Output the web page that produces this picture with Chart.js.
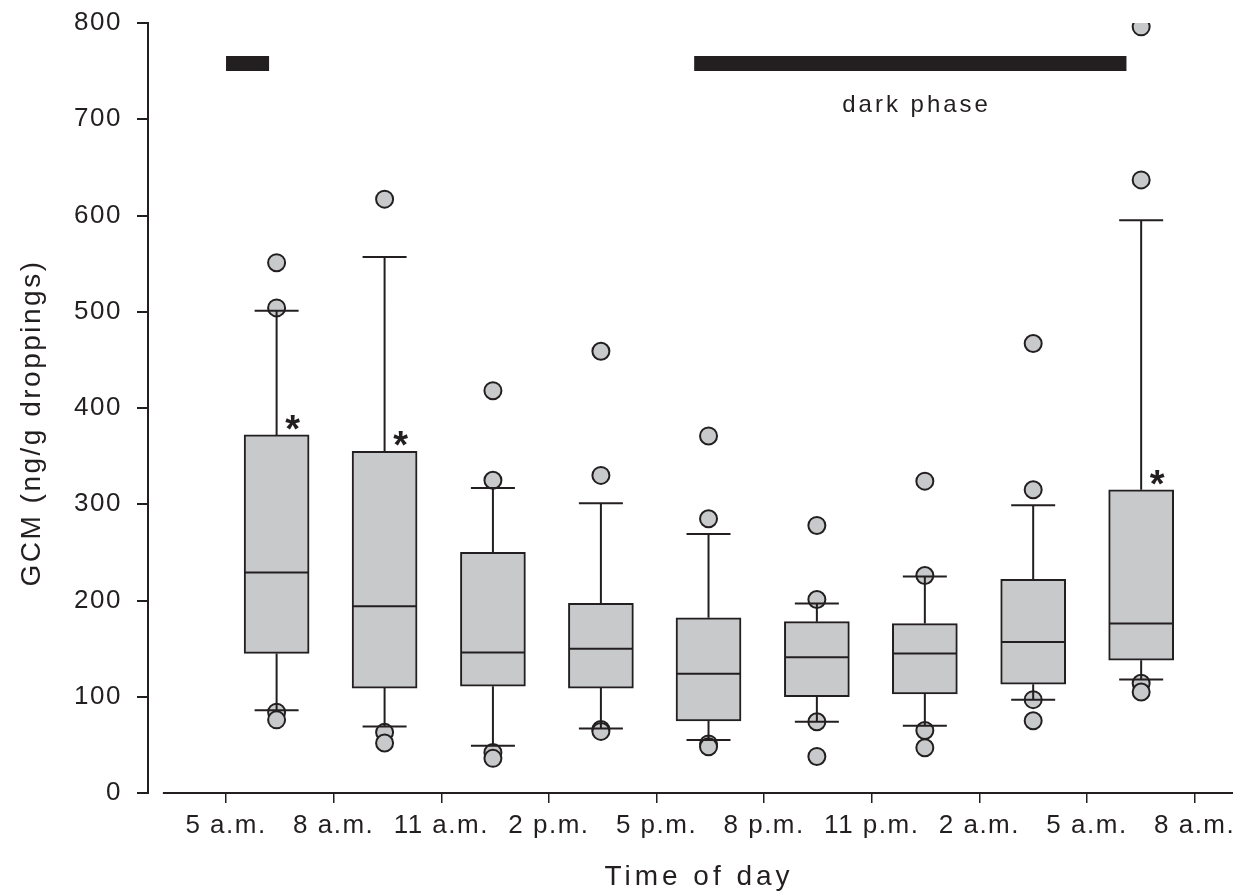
<!DOCTYPE html>
<html>
<head>
<meta charset="utf-8">
<script src="https://cdn.jsdelivr.net/npm/chart.js@4.4.0/dist/chart.umd.min.js"></script>
<style>
  html, body { margin: 0; padding: 0; background: #fff; }
</style>
</head>
<body>
<canvas id="c" width="1238" height="892"></canvas>
<script>
// ------------------------------------------------------------
//  Data (GCM per sampling time)
// ------------------------------------------------------------
const TICK_HOURS  = [5, 8, 11, 14, 17, 20, 23, 26, 29, 32];
const TICK_LABELS = ['5 a.m.', '8 a.m.', '11 a.m.', '2 p.m.', '5 p.m.', '8 p.m.', '11 p.m.', '2 a.m.', '5 a.m.', '8 a.m.'];

const BOX_HOURS  = [6.41, 9.42, 12.44, 15.45, 18.45, 21.47, 24.48, 27.5, 30.51];
const WHISKER_LO = [86, 69, 49, 67, 55, 74, 70, 97, 118];
const Q1         = [145, 109, 111, 109, 75, 100, 103, 113, 138];
const MEDIAN     = [229, 194, 146, 150, 124, 141, 145, 157, 176];
const Q3         = [372, 355, 250, 197, 182, 178, 176, 222, 315];
const WHISKER_HI = [501, 557, 317, 301, 269, 197, 225, 299, 595];
const OUTLIERS   = [
  [551, 504, 84, 76],
  [617, 63, 52],
  [418, 325, 42, 36],
  [459, 330, 66, 64],
  [371, 285, 51, 48],
  [278, 201, 74, 38],
  [324, 226, 65, 47],
  [467, 315, 97, 75],
  [796, 637, 114, 105]
];
const SIGNIFICANT = [0, 1, 8];          // boxes marked with *

const DARK_PHASES  = [[5, 6.2], [18.05, 30.1]];
const DARK_BAR_Y   = 758;
const DARK_LABEL   = 'dark phase';
const DARK_LABEL_X = 24.25;
const DARK_LABEL_Y = 714;

const X_TITLE = 'Time of day';
const Y_TITLE = 'GCM (ng/g droppings)';

// ------------------------------------------------------------
//  Styles
// ------------------------------------------------------------
const INK  = '#231f20';
const FILL = '#c8c9cb';
const FONT = '"Liberation Sans", Arial, Helvetica, sans-serif';
const X_MIN = 2.825, X_MAX = 33.07, X_LINE_START = 3.24;

// ------------------------------------------------------------
//  Build the datasets
// ------------------------------------------------------------
const boxes = BOX_HOURS.map((t, i) => ({ x: t, y: [Q1[i], Q3[i]] }));

const whiskers = [];
BOX_HOURS.forEach((t, i) => {
  whiskers.push({ x: t, y: Q3[i] }, { x: t, y: WHISKER_HI[i] }, { x: t, y: null });
  whiskers.push({ x: t, y: Q1[i] }, { x: t, y: WHISKER_LO[i] }, { x: t, y: null });
});

const caps = [];
BOX_HOURS.forEach((t, i) => {
  caps.push({ x: t, y: WHISKER_HI[i] }, { x: t, y: WHISKER_LO[i] });
});

const medians = BOX_HOURS.map((t, i) => ({ x: t, y: MEDIAN[i] }));

const outliers = [];
OUTLIERS.forEach((vals, i) => vals.forEach(v => outliers.push({ x: BOX_HOURS[i], y: v })));

const darkBar = [];
DARK_PHASES.forEach(([a, b]) => {
  darkBar.push({ x: a, y: DARK_BAR_Y }, { x: b, y: DARK_BAR_Y }, { x: b, y: null });
});

// ------------------------------------------------------------
//  Extra drawing: x axis line, asterisks, label, axis titles
// ------------------------------------------------------------
const extras = {
  id: 'extras',
  beforeDraw(chart) {
    chart.ctx.letterSpacing = '1.5px';
  },
  afterDatasetsDraw(chart) {
    const { ctx, scales: { x, y } } = chart;
    ctx.save();
    ctx.strokeStyle = INK;
    ctx.lineWidth = 2;
    ctx.beginPath();
    ctx.moveTo(x.getPixelForValue(X_LINE_START), y.getPixelForValue(0));
    ctx.lineTo(chart.chartArea.right, y.getPixelForValue(0));
    ctx.stroke();

    ctx.fillStyle = INK;
    ctx.textAlign = 'center';
    ctx.letterSpacing = '0px';
    ctx.font = 'bold 38px ' + FONT;
    ctx.textBaseline = 'alphabetic';
    SIGNIFICANT.forEach(i => {
      ctx.fillText('*', x.getPixelForValue(BOX_HOURS[i]) + 16, y.getPixelForValue(Q3[i]) + 7);
    });

    ctx.font = '24px ' + FONT;
    ctx.letterSpacing = '3px';
    ctx.textBaseline = 'middle';
    ctx.fillText(DARK_LABEL, x.getPixelForValue(DARK_LABEL_X), y.getPixelForValue(DARK_LABEL_Y));

    // axis titles
    ctx.font = '28px ' + FONT;
    ctx.letterSpacing = '4px';
    ctx.textBaseline = 'alphabetic';
    ctx.fillText(X_TITLE, 699, 885);

    ctx.letterSpacing = '2.5px';
    ctx.translate(40, 423);
    ctx.rotate(-Math.PI / 2);
    ctx.fillText(Y_TITLE, 0, 0);
    ctx.restore();
  }
};

new Chart(document.getElementById('c'), {
  type: 'bar',
  data: {
    datasets: [
      {
        type: 'scatter', data: caps, order: 0,
        pointStyle: 'line', pointRadius: 22, pointBorderWidth: 2, borderColor: INK
      },
      {
        type: 'scatter', data: medians, order: 0,
        pointStyle: 'line', pointRadius: 32, pointBorderWidth: 2, borderColor: INK
      },
      {
        type: 'line', data: whiskers, order: 1,
        borderColor: INK, borderWidth: 2, pointRadius: 0, spanGaps: false
      },
      {
        type: 'bar', data: boxes, order: 2,
        backgroundColor: FILL, borderColor: INK, borderWidth: 2,
        borderSkipped: false, barThickness: 65
      },
      {
        type: 'scatter', data: outliers, order: 3,
        pointRadius: 8.5, pointBorderWidth: 2, backgroundColor: FILL, borderColor: INK
      },
      {
        type: 'line', data: darkBar, order: 4,
        borderColor: INK, borderWidth: 15, borderCapStyle: 'butt', pointRadius: 0, spanGaps: false
      }
    ]
  },
  options: {
    responsive: false,
    animation: false,
    layout: { autoPadding: false, padding: { top: 23, right: 5, left: 0, bottom: 0 } },
    plugins: { legend: { display: false }, tooltip: { enabled: false } },
    scales: {
      x: {
        type: 'linear', min: X_MIN, max: X_MAX, offset: false,
        afterBuildTicks: s => { s.ticks = TICK_HOURS.map(v => ({ value: v })); },
        afterFit: s => { s.height = 99; s.paddingLeft = 0; s.paddingRight = 0; },
        grid: { display: true, drawOnChartArea: false, offset: false, tickLength: 10, color: INK, lineWidth: 1.5 },
        border: { display: false },
        ticks: {
          color: INK, font: { family: FONT, size: 26 }, padding: 7,
          maxRotation: 0, autoSkip: false,
          callback: (v, i) => TICK_LABELS[i]
        },
        title: { display: false }
      },
      y: {
        min: 0, max: 800,
        afterFit: s => { s.width = 148; s.paddingTop = 0; s.paddingBottom = 0; },
        grid: { display: true, drawOnChartArea: false, tickLength: 11, color: INK, lineWidth: 2 },
        border: { display: true, color: INK, width: 2 },
        ticks: { stepSize: 100, color: INK, font: { family: FONT, size: 26 }, padding: 15 },
        title: { display: false }
      }
    }
  },
  plugins: [extras]
});
</script>
</body>
</html>
